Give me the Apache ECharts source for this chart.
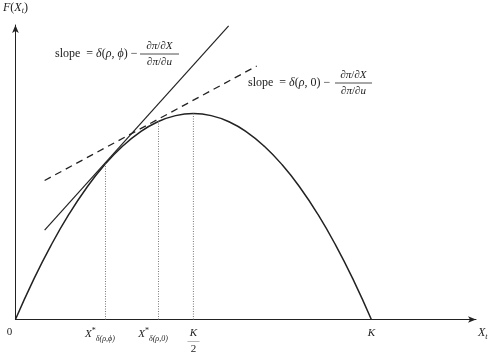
<!DOCTYPE html>
<html>
<head>
<meta charset="utf-8">
<script src="https://cdn.jsdelivr.net/npm/echarts@6/dist/echarts.min.js"></script>
<style>
  html, body { margin: 0; padding: 0; background: #fff; }
  #chart { width: 500px; height: 355px; }
</style>
</head>
<body>
<div id="chart"></div>
<script>
// curve F(X_t), K = 100
const curveX = [0, 5, 10, 15, 20, 25, 30, 35, 40, 45, 50, 55, 60, 65, 70, 75, 80, 85, 90, 95, 100];
const curveY = [0, 19, 36, 51, 64, 75, 84, 91, 96, 99, 100, 99, 96, 91, 84, 75, 64, 51, 36, 19, 0];
// tangent lines (end points)
const steepLine = [[8.2, 43.4], [59.9, 142.6]];
const flatLine = [[8.2, 67.5], [67.8, 123.1]];
// dotted drops from the curve
const dropX = [25.3, 40.2, 50];
const dropY = [75.6, 96.2, 100];
// x axis labels
const tickValues = [0, 25.3, 40.2, 50, 100];
const tickLabels = ['{zero|0}', '{v|X}{sup|*}{sub|δ(ρ,ϕ)}', '{v|X}{sup|*}{sub|δ(ρ,0)}', '{v|K}\n{bar|——}\n{n|2}', '{v|K}'];

const ink = '#222';
const serif = '"Liberation Serif", "DejaVu Serif", serif';

let chart = echarts.init(document.getElementById('chart'));

let series = [
  {
    type: 'line',
    data: curveX.map((x, i) => [x, curveY[i]]),
    smooth: true,
    showSymbol: false,
    lineStyle: { color: ink, width: 1.5 }
  },
  {
    type: 'line',
    data: steepLine,
    showSymbol: false,
    lineStyle: { color: ink, width: 1.2 }
  },
  {
    type: 'line',
    data: flatLine,
    showSymbol: false,
    lineStyle: { color: ink, width: 1.3, type: [7, 5] }
  }
];
dropX.forEach((x, i) => {
  series.push({
    type: 'line',
    data: [[x, 0], [x, dropY[i]]],
    showSymbol: false,
    lineStyle: { color: '#777', width: 1, type: [1, 1.5] }
  });
});

// slope annotation: lead text then a stacked fraction
function slopeNote(x, y, lead, fx0, fx1){
  let fc = (fx0 + fx1) / 2;
  let base = { fill: ink, font: '11px ' + serif };
  let rich = {
    r: { fontFamily: serif, fontSize: 11, fill: ink },
    i: { fontFamily: serif, fontSize: 11, fontStyle: 'italic', fill: ink },
    R: { fontFamily: serif, fontSize: 12, fill: ink },
    I: { fontFamily: serif, fontSize: 12, fontStyle: 'italic', fill: ink }
  };
  return [
    { type: 'text', x: x, y: y, style: { ...base, text: lead, align: 'left', verticalAlign: 'middle', rich } },
    { type: 'text', x: fc, y: y - 8, style: { ...base, text: '{r|∂}{i|π}{r|/∂}{i|X}', align: 'center', verticalAlign: 'middle', rich } },
    { type: 'line', shape: { x1: fx0, y1: y, x2: fx1, y2: y }, style: { stroke: ink, lineWidth: 0.8 } },
    { type: 'text', x: fc, y: y + 8, style: { ...base, text: '{r|∂}{i|π}{r|/∂}{i|u}', align: 'center', verticalAlign: 'middle', rich } }
  ];
}

let options = {
  animation: false,
  backgroundColor: '#fff',
  grid: { left: 14, right: 24, top: 25, bottom: 34 },
  xAxis: {
    type: 'value',
    min: 0,
    max: 129.4,
    splitLine: { show: false },
    axisTick: { show: false },
    axisLine: { show: true, lineStyle: { color: ink, width: 1 }, symbol: ['none', 'arrow'], symbolSize: [5, 8] },
    name: '{v|X}{sub|t}',
    nameLocation: 'end',
    nameGap: 2,
    nameTextStyle: {
      verticalAlign: 'top',
      padding: [5, 0, 0, 0],
      rich: {
        v: { fontFamily: serif, fontStyle: 'italic', fontSize: 12, color: ink, lineHeight: 16 },
        sub: { fontFamily: serif, fontStyle: 'italic', fontSize: 8, color: ink, verticalAlign: 'bottom' }
      }
    },
    axisLabel: {
      customValues: tickValues,
      margin: 7,
      formatter: (val) => tickLabels[tickValues.indexOf(val)] || '',
      rich: {
        zero: { fontFamily: serif, fontSize: 11, color: ink, padding: [0, 12, 0, 0] },
        v: { fontFamily: serif, fontStyle: 'italic', fontSize: 11, color: ink, lineHeight: 13 },
        sup: { fontFamily: serif, fontSize: 8, color: ink, verticalAlign: 'top' },
        sub: { fontFamily: serif, fontStyle: 'italic', fontSize: 8, color: ink, verticalAlign: 'bottom', lineHeight: 16, padding: [0, 11, 0, 0] },
        bar: { fontFamily: serif, fontSize: 6, color: ink, lineHeight: 4 },
        n: { fontFamily: serif, fontSize: 11, color: ink, lineHeight: 12 }
      }
    }
  },
  yAxis: {
    type: 'value',
    min: 0,
    max: 143,
    splitLine: { show: false },
    axisTick: { show: false },
    axisLabel: { show: false },
    axisLine: { show: true, lineStyle: { color: ink, width: 1 }, symbol: ['none', 'arrow'], symbolSize: [5, 8] },
    name: '{v|F}{r|(}{v|X}{sub|t}{r|)}',
    nameLocation: 'end',
    nameGap: 10,
    nameTextStyle: {
      rich: {
        v: { fontFamily: serif, fontStyle: 'italic', fontSize: 12, color: ink, lineHeight: 15 },
        r: { fontFamily: serif, fontSize: 12, color: ink },
        sub: { fontFamily: serif, fontStyle: 'italic', fontSize: 8, color: ink, verticalAlign: 'bottom' }
      }
    }
  },
  graphic: [
    ...slopeNote(55, 54, '{R|slope  = }{I|δ}{R|(}{I|ρ, ϕ}{R|) −}', 140, 179),
    ...slopeNote(248, 83, '{R|slope  = }{I|δ}{R|(}{I|ρ}{R|, 0) −}', 335, 372)
  ],
  series
};
chart.setOption(options);
</script>
</body>
</html>
